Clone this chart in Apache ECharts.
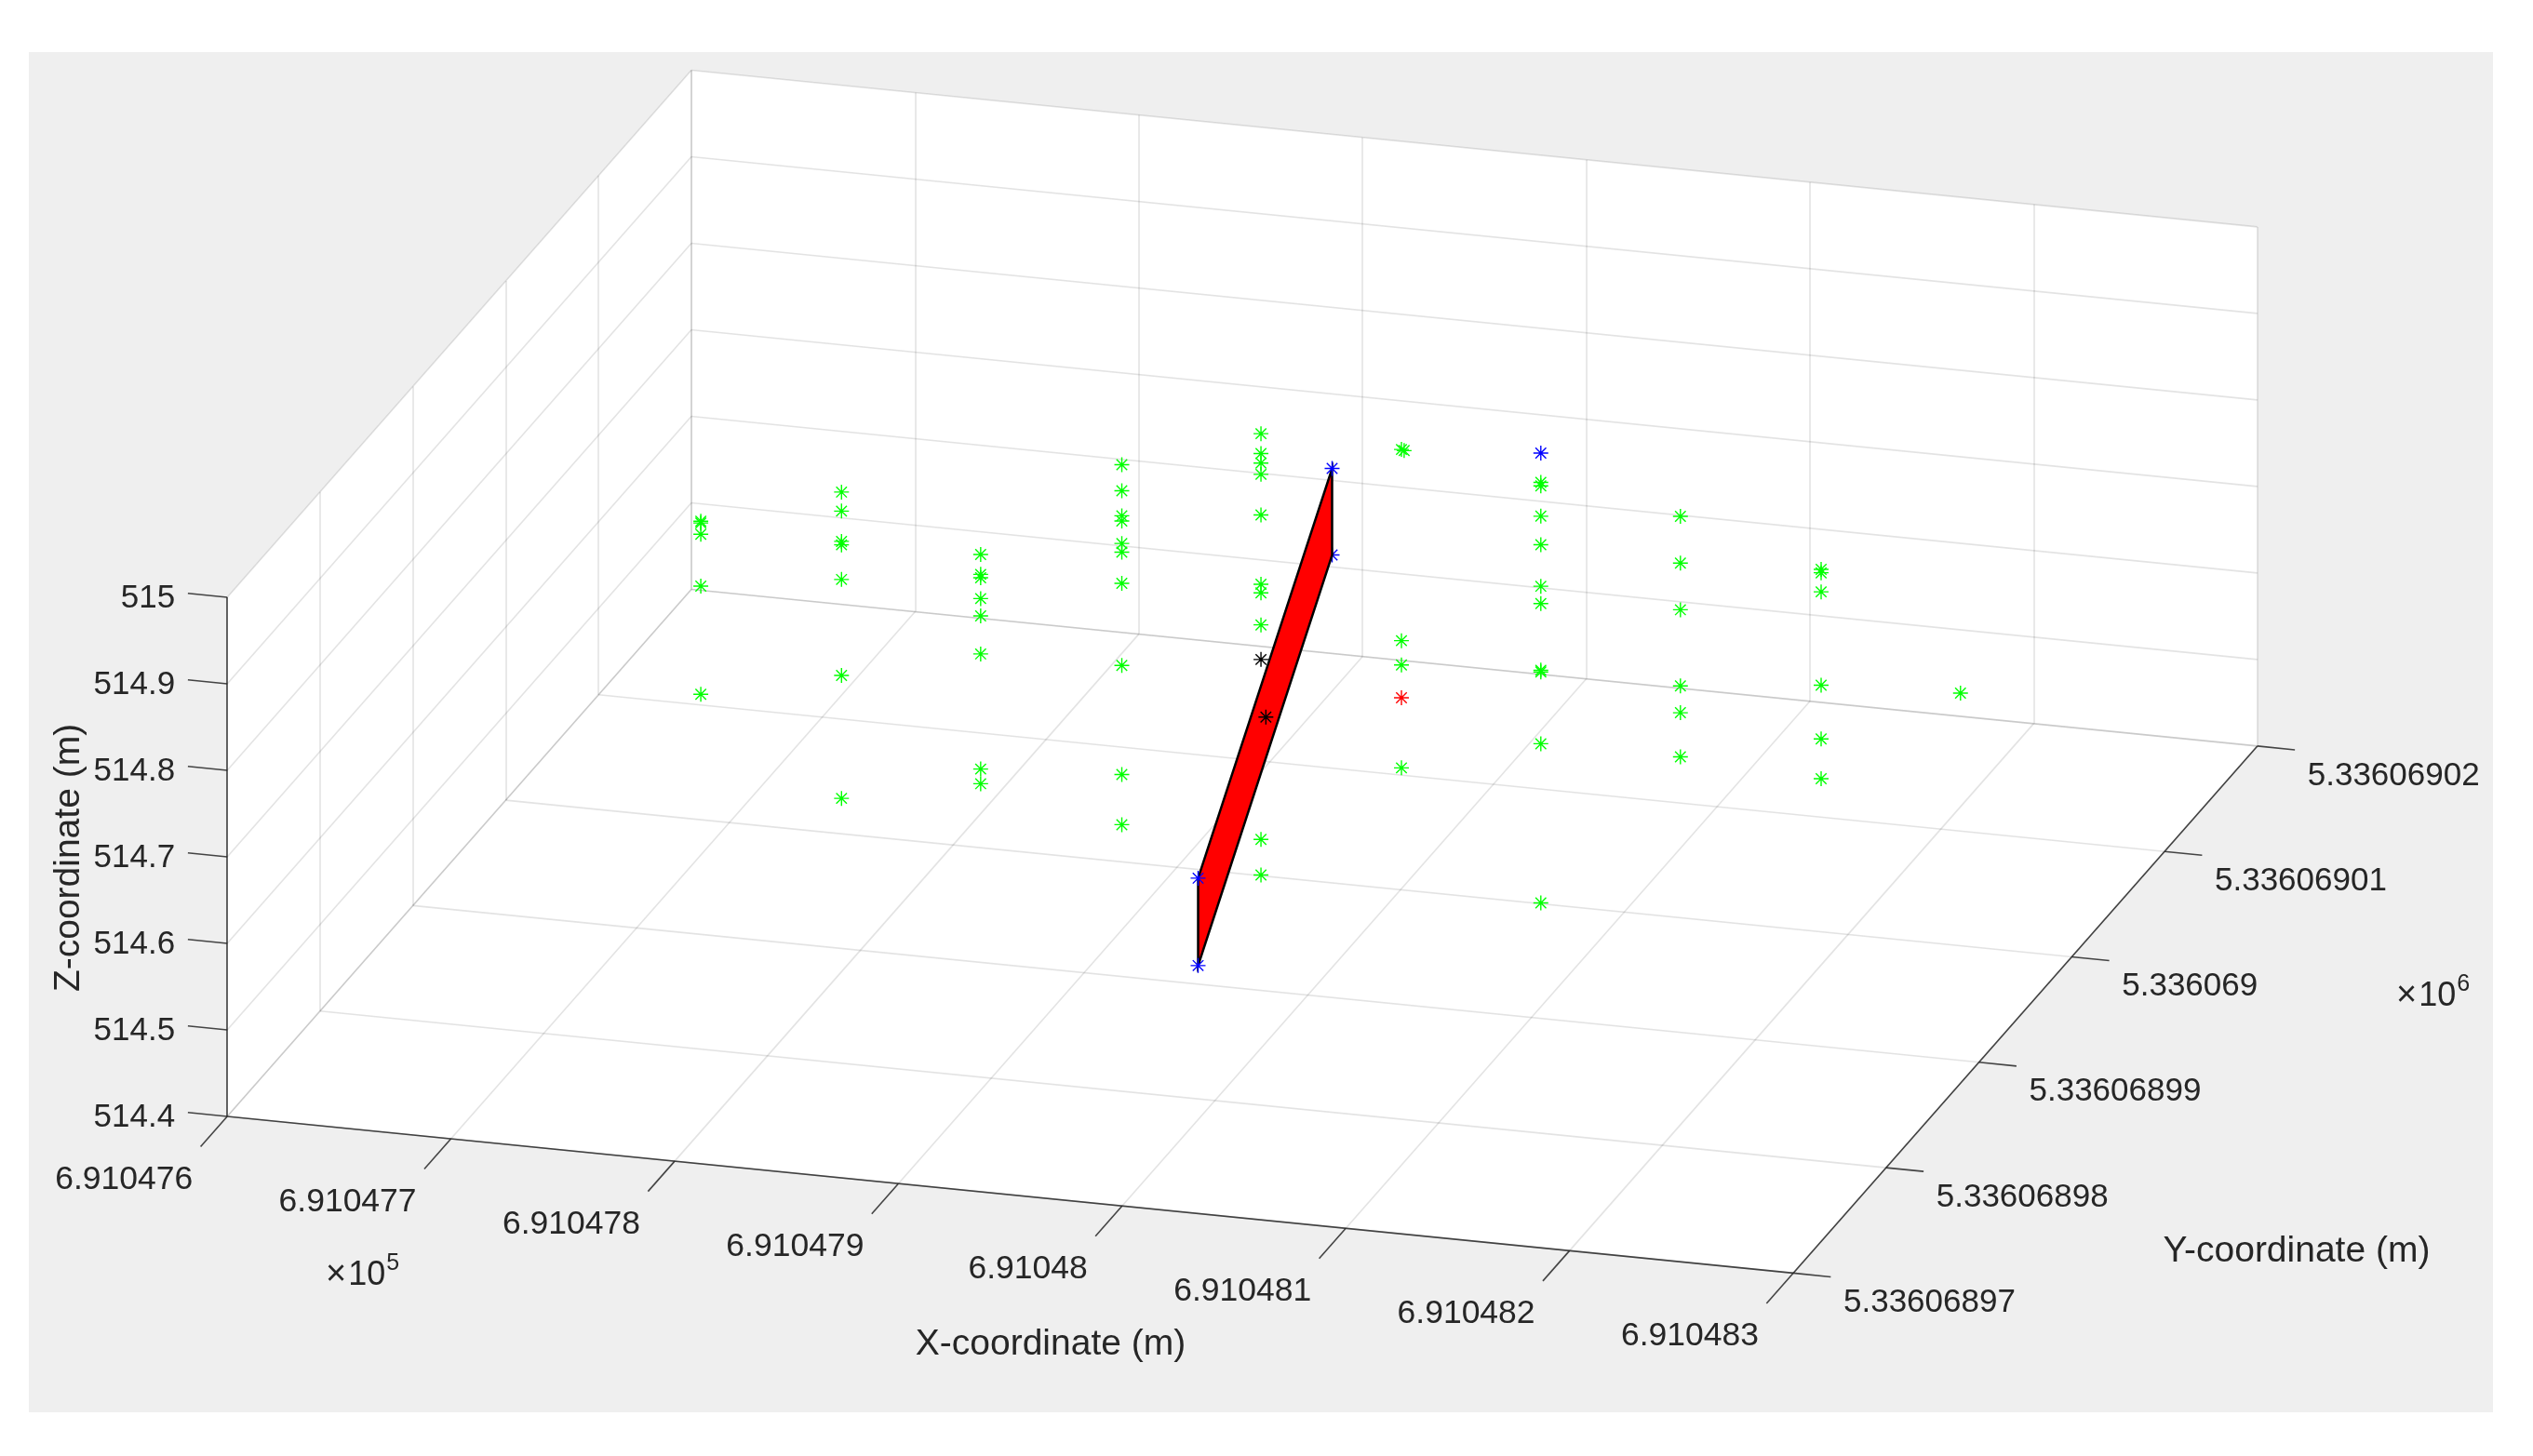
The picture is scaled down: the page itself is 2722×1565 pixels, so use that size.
<!DOCTYPE html>
<html>
<head>
<meta charset="utf-8">
<title>Panel and survey points</title>
<style>
  html, body { margin: 0; padding: 0; background: #fff; }
  #chart { width: 2722px; height: 1565px; }
</style>
<script src="https://cdn.jsdelivr.net/npm/echarts@6/dist/echarts.min.js"></script>
</head>
<body>
<div id="chart"></div>
<script>
// ticks, in metres
const xTicks = [691047.6, 691047.7, 691047.8, 691047.9, 691048.0, 691048.1, 691048.2, 691048.3];
const xTickLabels = ['6.910476', '6.910477', '6.910478', '6.910479', '6.91048', '6.910481', '6.910482', '6.910483'];
const yTicks = [5336068.97, 5336068.98, 5336068.99, 5336069.00, 5336069.01, 5336069.02];
const yTickLabels = ['5.33606897', '5.33606898', '5.33606899', '5.336069', '5.33606901', '5.33606902'];
const zTicks = [514.4, 514.5, 514.6, 514.7, 514.8, 514.9, 515];
const zTickLabels = ['514.4', '514.5', '514.6', '514.7', '514.8', '514.9', '515'];

// all the survey points sit in one wall plane
const wallY = 5336068.992;
const columnX = [691047.7204, 691047.7833, 691047.8455, 691047.9086, 691047.9708,
    691048.0336, 691048.0348, 691048.0959, 691048.1583, 691048.2212, 691048.2835];
const greenZ = [
    [514.851, 514.849, 514.836, 514.776, 514.651],
    [514.901, 514.879, 514.844, 514.840, 514.800, 514.689, 514.547],
    [514.845, 514.822, 514.818, 514.794, 514.774, 514.730, 514.597, 514.580],
    [514.965, 514.935, 514.906, 514.900, 514.874, 514.864, 514.828, 514.733, 514.607, 514.549],
    [515.017, 514.994, 514.983, 514.970, 514.923, 514.843, 514.833, 514.796, 514.548, 514.507],
    [515.015, 514.794, 514.766, 514.647],
    [515.014],
    [514.993, 514.989, 514.954, 514.921, 514.873, 514.853, 514.776, 514.774, 514.691, 514.507],
    [514.970, 514.916, 514.862, 514.774, 514.743, 514.692],
    [514.925, 514.921, 514.899, 514.791, 514.729, 514.683],
    [514.798]
];
const panelX = [691048.0026, 691048.0026, 691047.9427, 691047.9427];
const panelZ = [514.985, 514.885, 514.395, 514.496];
const blueX = [691048.0026, 691047.9427, 691047.9427, 691048.0959];
const blueZ = [514.985, 514.395, 514.496, 515.027];
const hiddenBlueX = [691048.0026];
const hiddenBlueZ = [514.885];
const blackX = [691047.9708, 691047.973];
const blackZ = [514.756, 514.690];
const redX = [691048.0336];
const redZ = [514.728];

// orthographic view
const view = {
    left: 31, top: 56, width: 2648, height: 1462,
    originX: 244.2, originY: 1200,
    xu: 2404, xv: 240.6,     // px per metre of X
    yu: 9975, yv: -11330,    // px per metre of Y
    zv: -930                 // px per metre of Z
};
const xMin = xTicks[0], xMax = xTicks[7];
const yMin = yTicks[0], yMax = yTicks[5];
const zMin = zTicks[0], zMax = zTicks[6];

function project(x, y, z) {
    const dx = x - xMin, dy = y - yMin, dz = z - zMin;
    return [
        view.originX - view.left + view.xu * dx + view.yu * dy,
        view.originY - view.top + view.xv * dx + view.yv * dy + view.zv * dz
    ];
}
const seg = (a, b) => ({coords: [project(...a), project(...b)]});

// grid lines: back wall, left wall, floor
const gridSegs = [];
xTicks.forEach(x => {
    gridSegs.push(seg([x, yMax, zMin], [x, yMax, zMax]));
    gridSegs.push(seg([x, yMin, zMin], [x, yMax, zMin]));
});
yTicks.forEach(y => {
    gridSegs.push(seg([xMin, y, zMin], [xMin, y, zMax]));
    gridSegs.push(seg([xMin, y, zMin], [xMax, y, zMin]));
});
zTicks.forEach(z => {
    gridSegs.push(seg([xMin, yMax, z], [xMax, yMax, z]));
    gridSegs.push(seg([xMin, yMin, z], [xMin, yMax, z]));
});

// axis lines and tick marks
const axisSegs = [
    seg([xMin, yMin, zMin], [xMin, yMin, zMax]),
    seg([xMin, yMin, zMin], [xMax, yMin, zMin]),
    seg([xMax, yMin, zMin], [xMax, yMax, zMin])
];
xTicks.forEach(x => axisSegs.push(seg([x, yMin, zMin], [x, yMin - 0.00287, zMin])));
yTicks.forEach(y => axisSegs.push(seg([xMax, y, zMin], [xMax + 0.0168, y, zMin])));
zTicks.forEach(z => axisSegs.push(seg([xMin, yMin, z], [xMin - 0.0176, yMin, z])));

const boxCorners = [
    [xMin, yMin, zMin], [xMin, yMin, zMax], [xMin, yMax, zMax],
    [xMax, yMax, zMax], [xMax, yMax, zMin], [xMax, yMin, zMin]
].map(c => project(...c));
const panelCorners = panelX.map((x, i) => project(x, wallY, panelZ[i]));

const greenPoints = [];
columnX.forEach((x, i) => greenZ[i].forEach(z => greenPoints.push(project(x, wallY, z))));
const toPoints = (xs, zs) => xs.map((x, i) => project(x, wallY, zs[i]));

const starPath = 'path://M0 -7L0 7M-7 0L7 0M-5 -5L5 5M-5 5L5 -5';
function stars(name, data, color, z) {
    return {
        type: 'scatter', name, data, z, silent: true,
        symbol: starPath, symbolSize: 16,
        itemStyle: {color, borderColor: color, borderWidth: 1.4, opacity: 1}
    };
}
function polygon(name, corners, style, z) {
    return {
        type: 'custom', name, z, silent: true, clip: false,
        coordinateSystem: 'cartesian2d',
        data: [[0, 0]],
        renderItem: (params, api) => ({
            type: 'polygon',
            shape: {points: corners.map(c => api.coord(c))},
            style
        })
    };
}
function tickText(name, points, labels, label) {
    return {
        type: 'scatter', name, z: 8, silent: true, symbolSize: 0,
        itemStyle: {opacity: 1},
        data: points.map((p, i) => ({value: p, name: labels[i]})),
        label: Object.assign({
            show: true, position: 'inside', formatter: '{b}', verticalAlign: 'middle',
            fontFamily: 'Liberation Sans', fontSize: 35, color: '#262626', opacity: 1
        }, label)
    };
}
function titleText(text, x, y, rotation) {
    return {
        type: 'text', x, y, rotation: rotation || 0, silent: true,
        style: {text, fill: '#262626', font: '39px "Liberation Sans"', align: 'center', verticalAlign: 'middle'}
    };
}
function multiplier(power, x, y) {
    return {
        type: 'text', x, y, silent: true,
        style: {
            text: '{a|×}{b|10}{c|' + power + '}',
            fill: '#262626', align: 'left', verticalAlign: 'middle',
            rich: {
                a: {font: '38px "Liberation Sans"', fill: '#262626', padding: [6, 2, 0, 0]},
                b: {font: '36px "Liberation Sans"', fill: '#262626', padding: [6, 0, 0, 0]},
                c: {font: '25px "Liberation Sans"', fill: '#262626', verticalAlign: 'top', padding: [0, 0, 0, 1]}
            }
        }
    };
}

const chart = echarts.init(document.getElementById('chart'));
chart.setOption({
    animation: false,
    backgroundColor: '#ffffff',
    tooltip: {show: false},
    grid: {
        show: true, backgroundColor: '#efefef', borderWidth: 0,
        left: view.left, top: view.top, width: view.width, height: view.height
    },
    xAxis: {type: 'value', min: 0, max: view.width, show: false},
    yAxis: {type: 'value', min: 0, max: view.height, inverse: true, show: false},
    graphic: [
        titleText('X-coordinate (m)', 1129, 1445),
        titleText('Y-coordinate (m)', 2468, 1345),
        titleText('Z-coordinate (m)', 74, 922, Math.PI / 2),
        multiplier(5, 350, 1368),
        multiplier(6, 2575, 1068)
    ],
    series: [
        polygon('box', boxCorners, {fill: '#ffffff'}, 1),
        {
            type: 'lines', name: 'grid', coordinateSystem: 'cartesian2d', z: 2, silent: true,
            data: gridSegs,
            lineStyle: {color: '#262626', width: 1.6, opacity: 0.13}
        },
        {
            type: 'lines', name: 'axes', coordinateSystem: 'cartesian2d', z: 3, silent: true,
            data: axisSegs,
            lineStyle: {color: '#262626', width: 1.6, opacity: 0.85}
        },
        stars('blue behind', toPoints(hiddenBlueX, hiddenBlueZ), '#0000ff', 4),
        polygon('panel', panelCorners, {fill: '#ff0000', stroke: '#000000', lineWidth: 2.5}, 5),
        stars('green', greenPoints, '#00ff00', 6),
        stars('blue', toPoints(blueX, blueZ), '#0000ff', 7),
        stars('black', toPoints(blackX, blackZ), '#000000', 7),
        stars('red', toPoints(redX, redZ), '#ff0000', 7),
        tickText('x ticks', xTicks.map(x => project(x, yMin, zMin)), xTickLabels, {align: 'right', offset: [-37, 68], fontSize: 35.5}),
        tickText('y ticks', yTicks.map(y => project(xMax, y, zMin)), yTickLabels, {align: 'left', offset: [54, 32]}),
        tickText('z ticks', zTicks.map(z => project(xMin, yMin, z)), zTickLabels, {align: 'right', offset: [-56, 1]})
    ]
});
</script>
</body>
</html>
